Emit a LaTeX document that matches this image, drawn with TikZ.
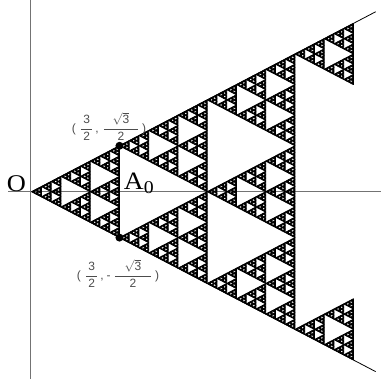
\documentclass[tikz,border=0pt]{standalone}
\usepackage{amsmath}
\usepackage{graphicx}
\usepackage{fontspec}
\newfontfamily\timesfont{Liberation Serif}
\newfontfamily\lsans{Liberation Sans}
\tikzset{
  axisline/.style={draw=black!55, line width=0.8pt},
  ray/.style={draw=black, line width=0.8pt},
  leaf/.style={fill=black, draw=black, line width=0.8pt, line join=round},
  ptlabel/.style={text=black!70, font=\lsans\fontsize{12}{14}\selectfont, inner sep=0pt},
  biglabel/.style={font=\timesfont, inner sep=0pt, anchor=base west},
  vertexdot/.style={fill=black},
}
% Sierpinski (Pascal mod 3) cell: apex (0,0), right edge from (1,T) to (1,-T)
\newcommand\sierpcell[1]{%
  \ifnum#1>0
    \foreach \sa/\sb in {0/0, 0.333333/0.19245, 0.333333/-0.19245, 0.666667/0.3849, 0.666667/0, 0.666667/-0.3849}{%
      \begin{scope}[shift={(\sa,\sb)},scale=0.333333]
        \sierpcell{\numexpr#1-1\relax}
      \end{scope}}%
  \else
    \path[leaf] (0,0)--(1,0.57735)--(1,-0.57735)--cycle;
  \fi}
\begin{document}
\begin{tikzpicture}[x=58.5pt,y=53pt]
\useasboundingbox (-31.7pt,-187.3pt) rectangle (349.3pt,191.7pt);
\coordinate (O) at (0,0);
\coordinate (vtop) at (-1.5pt,191.7pt);
\coordinate (vbot) at (-1.5pt,-187.3pt);
\coordinate (hleft) at (-23.7pt,0);
\coordinate (hright) at (349.3pt,0);
\coordinate (rayup) at (5.88,3.395);
\coordinate (raydown) at (5.88,-3.395);
\coordinate (Pup) at (1.5,0.866);
\coordinate (Pdown) at (1.5,-0.866);
% axes
\draw[axisline] (vtop) -- (vbot);
\draw[axisline] (hleft) -- (hright);
% rays
\draw[ray] (O) -- (rayup);
\draw[ray] (O) -- (raydown);
% fractal: rows 0..10 of Pascal's triangle mod 3 (nonzero entries)
\foreach \n/\k in {0/0,
  1/0,1/1,
  2/0,2/1,2/2,
  3/0,3/3,
  4/0,4/1,4/3,4/4,
  5/0,5/1,5/2,5/3,5/4,5/5,
  6/0,6/3,6/6,
  7/0,7/1,7/3,7/4,7/6,7/7,
  8/0,8/1,8/2,8/3,8/4,8/5,8/6,8/7,8/8,
  9/0,9/9,
  10/0,10/1,10/9,10/10}{%
  \begin{scope}[shift={({0.5*\n},{(\n-2*\k)*0.288675})},scale=0.5]
    \sierpcell{2}
  \end{scope}}
% vertices of A0
\fill[vertexdot] (Pup) circle (4pt);
\fill[vertexdot] (Pdown) circle (4pt);
% labels
\node[biglabel] (Olabel) at (-25pt,0.3pt) {\fontsize{24}{24}\selectfont\scalebox{1.1}[1]{O}};
\node[biglabel] (Alabel) at (92pt,1.7pt) {\fontsize{25}{25}\selectfont\scalebox{1.1}[1]{A\raisebox{-3.5pt}{\fontsize{18}{18}\selectfont 0}}};
\node[ptlabel] (lblup) at (77.3pt,65.2pt) {(\hspace{4pt}$\dfrac{\makebox[11pt]{\lsans 3}}{\makebox[11pt]{\lsans 2}}$\hspace{2pt},\hspace{4pt}$\dfrac{\makebox[34pt]{$\sqrt{\mbox{\lsans 3}}$}}{\mbox{\lsans 2}}$\hspace{3pt})};
\node[ptlabel] (lbldown) at (86.3pt,-81.8pt) {(\hspace{4pt}$\dfrac{\makebox[11pt]{\lsans 3}}{\makebox[11pt]{\lsans 2}}$\hspace{2pt},\hspace{3pt}-\hspace{3pt}$\dfrac{\makebox[36pt]{$\sqrt{\mbox{\lsans 3}}$}}{\mbox{\lsans 2}}$\hspace{3pt})};
\end{tikzpicture}
\end{document}
